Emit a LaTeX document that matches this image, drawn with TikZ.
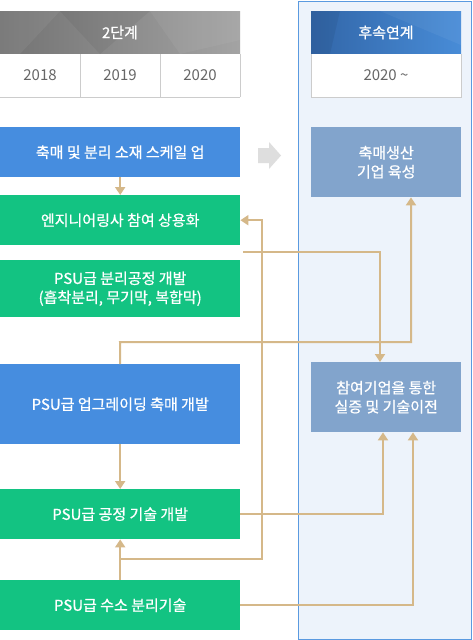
\documentclass[tikz,border=0pt]{standalone}
\usepackage{fontspec}
\setmainfont{Noto Sans CJK KR}
\newfontfamily\boxfont[FakeBold=0.8]{Noto Sans CJK KR}
\usetikzlibrary{arrows.meta,shapes.geometric}
\definecolor{cblue}{HTML}{468DDF}
\definecolor{cgreen}{HTML}{13C382}
\definecolor{cslate}{HTML}{82A4CC}
\definecolor{ctan}{HTML}{D5B889}
\definecolor{cpanel}{HTML}{EDF3FB}
\definecolor{cpanelb}{HTML}{5A9AE0}
\definecolor{cgrid}{HTML}{CCCCCC}
\definecolor{cyear}{HTML}{666666}
\tikzset{
  lbox/.style={anchor=north west, minimum width=240pt, inner sep=0pt, text=white,
    font=\boxfont\fontsize{15}{19}\selectfont, align=center},
  bluebox/.style={lbox, fill=cblue},
  greenbox/.style={lbox, fill=cgreen},
  rbox/.style={anchor=north west, minimum width=150pt, minimum height=70pt, inner sep=0pt,
    fill=cslate, text=white, font=\boxfont\fontsize{15}{19}\selectfont, align=center},
  yeartxt/.style={text=cyear, font=\fontsize{15}{18}\selectfont},
  headtxt/.style={text=white, font=\boxfont\fontsize{15}{18}\selectfont},
  con/.style={draw=ctan, line width=2pt},
  conarr/.style={con, -{Triangle[width=10pt,length=8pt]}},
}
\begin{document}
\begin{tikzpicture}[x=1pt,y=-1pt]
\useasboundingbox (0,0) rectangle (472,640);
\fill[white] (0,0) rectangle (472,640);
% right panel
\draw[fill=cpanel, draw=cpanelb, line width=1pt] (298.5,1) rectangle (471,639);
% left header
\shade[left color=black!55, right color=black!36] (0,11) rectangle (240,54);
\fill[white, opacity=0.06] (0,11) -- (60,11) -- (20,54) -- (0,54) -- cycle;
\fill[black, opacity=0.05] (60,11) -- (150,11) -- (100,54) -- cycle;
\fill[white, opacity=0.05] (150,11) -- (240,11) -- (240,40) -- (180,54) -- cycle;
\node[headtxt] (h1) at (120,32.5) {2단계};
\fill[white] (0,54) rectangle (240,97);
\draw[cgrid, line width=0.8pt] (0,97) -- (240,97) (240,54) -- (240,97) (80,54) -- (80,97) (160,54) -- (160,97);
\node[yeartxt] (y1) at (40,75.5) {2018};
\node[yeartxt] (y2) at (120,75.5) {2019};
\node[yeartxt] (y3) at (200,75.5) {2020};
% right header
\shade[left color={rgb,255:red,50;green,102;blue,168}, right color={rgb,255:red,72;green,140;blue,215}] (311,11) rectangle (461,54);
\fill[black, opacity=0.06] (311,11) -- (340,11) -- (330,54) -- (311,54) -- cycle;
\fill[white, opacity=0.05] (380,11) -- (461,11) -- (461,45) -- cycle;
\node[headtxt] (h2) at (386,32.5) {후속연계};
\fill[white] (311,54) rectangle (461,97);
\draw[cgrid, line width=0.8pt] (311,54) -- (311,97) -- (461,97) -- (461,54);
\node[yeartxt] (y4) at (386,75.5) {2020 \textasciitilde};
% gray block arrow
\fill[black!13] (258,148) -- (269,148) -- (269,142) -- (281,155.5) -- (269,169) -- (269,163) -- (258,163) -- cycle;
% left boxes
\node[bluebox, minimum height=50pt] (b1) at (0,127) {축매 및 분리 소재 스케일 업};
\node[greenbox, minimum height=50pt] (b2) at (0,195) {엔지니어링사 참여 상용화};
\node[greenbox, minimum height=57pt] (b3) at (0,260) {PSU급 분리공정 개발\\(흡착분리, 무기막, 복합막)};
\node[bluebox, minimum height=80pt] (b4) at (0,364) {PSU급 업그레이딩 축매 개발};
\node[greenbox, minimum height=50pt] (b5) at (0,489) {PSU급 공정 기술 개발};
\node[greenbox, minimum height=50pt] (b6) at (0,580) {PSU급 수소 분리기술};
% right boxes
\node[rbox] (r1) at (311,127) {축매생산\\기업 육성};
\node[rbox] (r2) at (311,362) {참여기업을 통한\\실증 및 기술이전};
% coordinates
\coordinate (x380) at (380,0);
\coordinate (x383) at (383,0);
\coordinate (x411) at (411,0);
\coordinate (x413) at (413,0);
\coordinate (j1) at (120,559);
\coordinate (s3) at (243,252);
\coordinate (j4) at (120,342);
% connectors
\draw[conarr] (b1.south) -- (b2.north);
\draw[conarr] (b4.south) -- (b5.north);
\draw[conarr] (b6.north) -- (b5.south);
\draw[conarr] (j1) -- (262,559) |- (b2.east);
\draw[conarr] (s3) -| (x380 |- r2.north);
\draw[conarr] (b4.north) -- (j4) -| (x411 |- r1.south);
\draw[conarr] (b5.east) -| (x383 |- r2.south);
\draw[conarr] (b6.east) -| (x413 |- r2.south);
\end{tikzpicture}
\end{document}
